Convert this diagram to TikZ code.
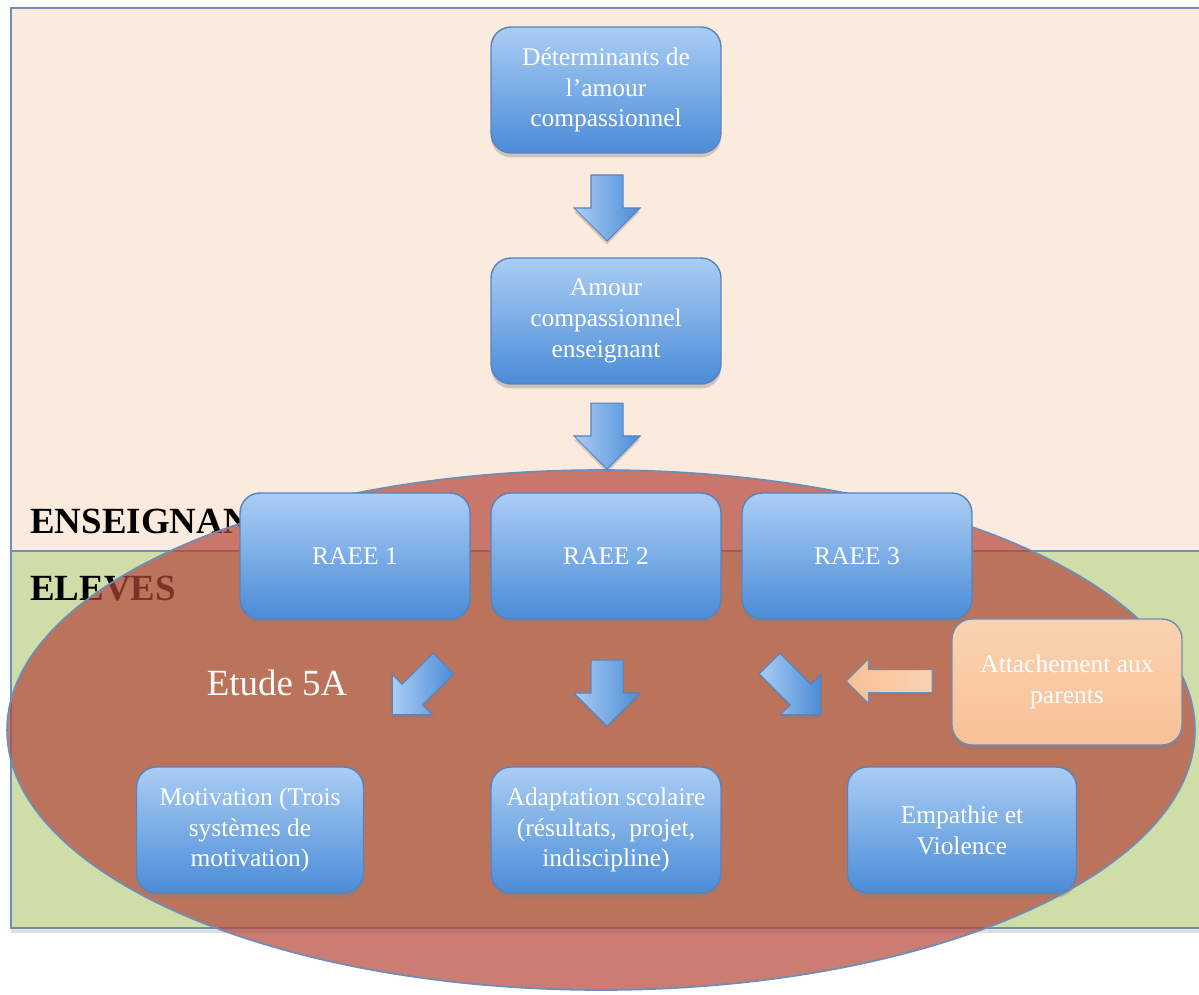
\documentclass[tikz,border=0pt]{standalone}
\usepackage{fontspec}
\setmainfont{Liberation Serif}
\usetikzlibrary{shapes.geometric,shapes.arrows,shadows}

\definecolor{peachband}{HTML}{FBEBDE}
\definecolor{greenband}{HTML}{CFDDA9}
\definecolor{bandline}{HTML}{6F8DB5}
\definecolor{studyred}{HTML}{B5473A}
\definecolor{boxtop}{HTML}{AACDF4}
\definecolor{boxbot}{HTML}{4B8CD7}
\definecolor{boxline}{HTML}{5783BE}
\definecolor{orangetop}{HTML}{FAD2B0}
\definecolor{orangebot}{HTML}{F7C196}

\begin{document}
\begin{tikzpicture}[x=0.02cm,y=-0.02cm,
    band/.style={draw=bandline, line width=1.2pt, drop shadow={opacity=0.25,shadow xshift=0pt,shadow yshift=-3pt}},
    bandlabel/.style={anchor=base west, inner sep=0pt, font=\fontsize{21}{24}\selectfont\bfseries},
    blockbox/.style={draw=boxline, line width=0.8pt, rounded corners=0.4cm, top color=boxtop, bottom color=boxbot,
        minimum width=4.6cm, minimum height=2.52cm, align=center, text=white, font=\fontsize{14.5}{17.5}\selectfont,
        drop shadow={opacity=0.35,shadow xshift=0pt,shadow yshift=-2.5pt}},
    orangebox/.style={blockbox, top color=orangetop, bottom color=orangebot, draw=bandline},
    blockarrow/.style={single arrow, draw=boxline, line width=0.6pt, left color=boxtop, right color=boxbot,
        inner xsep=0pt, inner ysep=0.31cm, minimum height=1.32cm, single arrow head extend=0.34cm,
        drop shadow={opacity=0.3,shadow xshift=0pt,shadow yshift=-2pt}},
    diagarrow/.style={blockarrow, minimum height=1.45cm, inner ysep=0.28cm, single arrow head extend=0.28cm},
    orangearrow/.style={blockarrow, left color=orangebot, right color=orangetop, draw=bandline,
        minimum height=1.72cm, inner ysep=0.22cm, single arrow head extend=0.21cm}]
\clip (0,0) rectangle (1199,994);
\fill[white] (0,0) rectangle (1199,994);

% the two bands
\draw[band, fill=peachband] (11,8) rectangle (1230,551);
\draw[band, fill=greenband] (11,551) rectangle (1230,928);
\node[bandlabel] (teachers) at (30,533) {ENSEIGNANTS};
\node[bandlabel] (pupils) at (30,600) {ELEVES};

% the study
\node[ellipse, draw=bandline, line width=1pt, fill=studyred, fill opacity=0.7,
      minimum width=23.76cm, minimum height=10.4cm] (study) at (601,730) {};
\node[text=white, font=\fontsize{21}{24}\selectfont] (studyname) at (277,683) {Etude 5A};

% arrows
\node[blockarrow, rotate=-90] (arr1) at (607,200) {};
\node[blockarrow, rotate=-90] (arr2) at (607,428) {};
\node[diagarrow, rotate=-135] (arrL) at (423,684) {};
\node[blockarrow, rotate=-90] (arrM) at (607,685) {};
\node[diagarrow, rotate=-45] (arrR) at (790,684) {};
\node[orangearrow, rotate=180] (arrP) at (895,681) {};

% boxes
\node[blockbox] (determ) at (606,90) {Déterminants de\\l’amour\\compassionnel};
\node[blockbox] (amour) at (606,321) {Amour\\compassionnel\\enseignant};
\node[blockbox] (raee1) at (355,556) {RAEE 1};
\node[blockbox] (raee2) at (606,556) {RAEE 2};
\node[blockbox] (raee3) at (857,556) {RAEE 3};
\node[orangebox] (attach) at (1067,682) {Attachement aux\\parents};
\node[blockbox, minimum width=4.54cm] (motiv) at (250,830) {Motivation (Trois\\systèmes de\\motivation)};
\node[blockbox] (adapt) at (606,830) {Adaptation scolaire\\(résultats,~ projet,\\indiscipline)};
\node[blockbox, minimum width=4.58cm] (empath) at (962,830) {Empathie et\\Violence};
\end{tikzpicture}
\end{document}
